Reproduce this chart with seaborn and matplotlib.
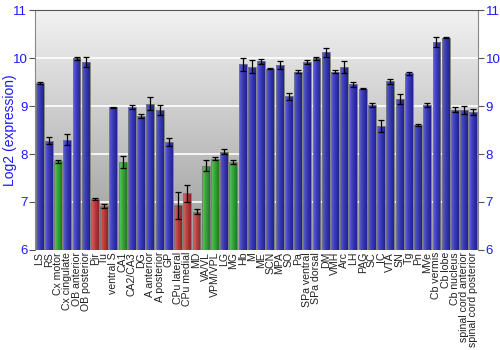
import matplotlib
matplotlib.use("Agg")
import matplotlib.pyplot as plt
import seaborn as sns
import numpy as np
import pandas as pd
from matplotlib.colors import LinearSegmentedColormap

regions = ["LS", "RS", "Cx motor", "Cx cingulate", "OB anterior", "OB posterior", "Pir", "Tu",
           "ventral S", "CA1", "CA2/CA3", "DG", "A anterior", "A posterior", "GP", "CPu lateral",
           "CPu medial", "MD", "VA/VL", "VPM/VPL", "LG", "MG", "Hb", "M", "ME", "SCN", "MPA", "SO",
           "Pa", "SPa ventral", "SPa dorsal", "DM", "VMH", "Arc", "LH", "PAG", "SC", "IC", "VTA",
           "SN", "Tg", "Pn", "MVe", "Cb vermis", "Cb lobe", "Cb nucleus", "spinal cord anterior",
           "spinal cord posterior"]
values = [9.48, 8.28, 7.85, 8.30, 10.00, 9.92, 7.07, 6.92,
          8.97, 7.83, 8.98, 8.79, 9.05, 8.92, 8.25, 6.93,
          7.18, 6.80, 7.76, 7.90, 8.05, 7.83, 9.87, 9.82, 9.93, 9.78, 9.85, 9.20,
          9.72, 9.92, 10.00, 10.12, 9.72, 9.81, 9.45, 9.36, 9.03, 8.58, 9.52,
          9.15, 9.68, 8.60, 9.02, 10.33, 10.42, 8.92, 8.92, 8.88]
errors = [0.03, 0.08, 0.03, 0.12, 0.03, 0.10, 0.02, 0.04,
          0.02, 0.12, 0.04, 0.04, 0.13, 0.11, 0.08, 0.28,
          0.18, 0.05, 0.12, 0.03, 0.06, 0.04, 0.13, 0.14, 0.05, 0.01, 0.08, 0.07,
          0.03, 0.04, 0.03, 0.10, 0.03, 0.12, 0.05, 0.01, 0.04, 0.13, 0.05,
          0.10, 0.04, 0.02, 0.05, 0.10, 0.01, 0.05, 0.08, 0.06]
groups = ["b", "b", "g", "b", "b", "b", "r", "r",
          "b", "g", "b", "b", "b", "b", "b", "r",
          "r", "r", "g", "g", "b", "g", "b", "b", "b", "b", "b", "b",
          "b", "b", "b", "b", "b", "b", "b", "b", "b", "b", "b",
          "b", "b", "b", "b", "b", "b", "b", "b", "b"]

colmap = {"b": "#3434a8", "g": "#38a038", "r": "#b83c3c"}
gradmap = {"b": ["#6060d8", "#3a3ab4", "#222290"],
           "g": ["#60c860", "#3aa23a", "#207a20"],
           "r": ["#d86868", "#bb3d3d", "#8e2424"]}
df = pd.DataFrame({"region": regions, "value": values, "err": errors, "group": groups})

plt.rcParams["font.family"] = ["Liberation Sans", "DejaVu Sans"]
fig = plt.figure(figsize=(5, 3.5), dpi=100)
ax = fig.add_axes([0.07, 0.286, 0.886, 0.685])
n = len(regions)

# background gradient (light at top, darker at bottom)
grad = np.linspace(0, 1, 256).reshape(-1, 1)
cmap_bg = LinearSegmentedColormap.from_list("bg", ["#9a9a9a", "#f2f2f2"])
ax.imshow(grad, aspect="auto", cmap=cmap_bg, extent=[-0.5, n - 0.5, 6, 11],
          zorder=0, origin="lower")

for yv in [7, 8, 9, 10]:
    ax.axhline(yv, color="white", lw=1.2, zorder=1)

sns.barplot(data=df, x="region", y="value", hue="region",
            palette=[colmap[g] for g in groups], legend=False, ax=ax,
            width=0.86, edgecolor="#7a7a7a", linewidth=0.6, zorder=2, errorbar=None)

# horizontal shading on each bar
hgrad = np.linspace(0, 1, 64).reshape(1, -1)
for patch, g in zip(ax.patches, groups):
    x0, w = patch.get_x(), patch.get_width()
    y1 = patch.get_height()
    cm = LinearSegmentedColormap.from_list("c" + g, gradmap[g])
    im = ax.imshow(hgrad, aspect="auto", cmap=cm, extent=[x0, x0 + w, 6, y1],
                   zorder=2.1, origin="lower")
    im.set_clip_path(patch)
    patch.set_zorder(2.2)
    patch.set_facecolor("none")

xs = np.arange(n)
ax.errorbar(xs, values, yerr=errors, fmt="none", ecolor="black", elinewidth=0.9,
            capsize=2, capthick=0.9, zorder=3)

ax.set_xlim(-0.5, n - 0.5)
ax.set_ylim(6, 11)
ax.set_yticks([6, 7, 8, 9, 10, 11])
ax.tick_params(axis="y", colors="#555555", labelcolor="#1a1aff", labelsize=9.5, length=4,
               right=True, labelright=True, pad=1.5)
ax.tick_params(axis="x", length=0, pad=1.5, labelsize=7.6, labelcolor="#222222")
ax.set_xticks(xs)
ax.set_xticklabels(regions, rotation=90)
ax.set_xlabel("")
ax.set_ylabel("Log2 (expression)", color="#1a1aff", fontsize=10)
ax.yaxis.set_label_coords(-0.04, 0.5)
for s in ["left", "right"]:
    ax.spines[s].set_color("#888888")
ax.spines["top"].set_color("#555555")
ax.spines["bottom"].set_visible(False)

fig.savefig("out.png", dpi=100)
